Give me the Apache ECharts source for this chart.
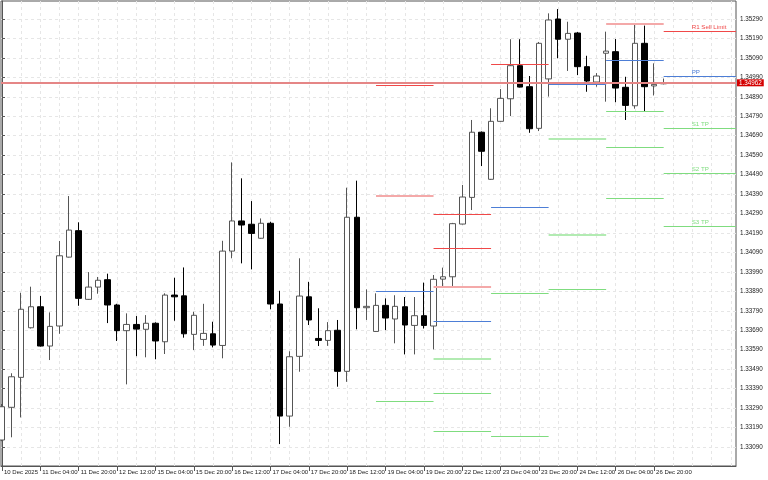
<!DOCTYPE html>
<html><head><meta charset="utf-8">
<script src="https://cdn.jsdelivr.net/npm/echarts@6/dist/echarts.min.js"></script>
<style>html,body{margin:0;padding:0;background:#fff}#c{width:768px;height:480px}</style>
</head><body><div id="c"></div>
<script>
// ---- data ----
const xTickIndex = [0,4,8,12,16,20,24,28,32,36,40,44,48,52,56,60,64,68];
const xTickLabels = ['10 Dec 2025','11 Dec 04:00','11 Dec 20:00','12 Dec 12:00','15 Dec 04:00','15 Dec 20:00','16 Dec 12:00','17 Dec 04:00','17 Dec 20:00','18 Dec 12:00','19 Dec 04:00','19 Dec 20:00','22 Dec 12:00','23 Dec 04:00','23 Dec 20:00','24 Dec 12:00','26 Dec 04:00','26 Dec 20:00'];
const yTicks = [1.33090,1.33190,1.33290,1.33390,1.33490,1.33590,1.33690,1.33790,1.33890,1.33990,1.34090,1.34190,1.34290,1.34390,1.34490,1.34590,1.34690,1.34790,1.34890,1.34990,1.35090,1.35190,1.35290];

const open = [1.33126,1.33294,1.33448,1.33703,1.33811,1.33609,1.33712,1.34066,1.34202,1.33849,
1.33912,1.33950,1.33820,1.33688,1.33720,1.33695,1.33726,1.33631,1.33871,1.33867,
1.33669,1.33643,1.33672,1.33612,1.34097,1.34252,1.34235,1.34163,1.34240,1.33825,
1.33249,1.33556,1.33862,1.33648,1.33638,1.33690,1.33479,1.34271,1.33806,1.33684,
1.33818,1.33748,1.33811,1.33715,1.33765,1.33712,1.33953,1.33965,1.34236,1.34373,
1.34708,1.34466,1.34764,1.34880,1.35050,1.34942,1.34728,1.34982,1.35290,1.35186,
1.35218,1.35045,1.34966,1.35114,1.35122,1.34939,1.34844,1.35165,1.34946,1.34957];
const high = [1.33311,1.33469,1.33883,1.33914,1.33866,1.33782,1.34149,1.34380,1.34245,1.33989,
1.33964,1.33981,1.33826,1.33777,1.33763,1.33768,1.33731,1.33880,1.33960,1.34013,
1.33785,1.33826,1.33734,1.34150,1.34553,1.34471,1.34354,1.34265,1.34248,1.33893,
1.33582,1.34060,1.33939,1.33803,1.33732,1.33743,1.34423,1.34459,1.33900,1.33880,
1.33854,1.33870,1.33861,1.33861,1.33935,1.33974,1.34012,1.34242,1.34437,1.34771,
1.34712,1.34831,1.34930,1.35186,1.35186,1.34997,1.35172,1.35319,1.35341,1.35276,
1.35223,1.35101,1.35012,1.35225,1.35187,1.34993,1.35268,1.35256,1.35062,1.34984];
const low = [1.33120,1.33140,1.33242,1.33699,1.33606,1.33537,1.33672,1.34064,1.33816,1.33846,
1.33878,1.33727,1.33635,1.33412,1.33557,1.33551,1.33541,1.33568,1.33739,1.33652,
1.33588,1.33610,1.33602,1.33546,1.34060,1.34034,1.34003,1.34160,1.33798,1.33105,
1.33194,1.33477,1.33717,1.33609,1.33610,1.33400,1.33425,1.33695,1.33743,1.33682,
1.33691,1.33623,1.33566,1.33566,1.33699,1.33592,1.33910,1.33910,1.34234,1.34308,
1.34534,1.34463,1.34762,1.34791,1.34938,1.34705,1.34714,1.34891,1.35088,1.35023,
1.35002,1.34916,1.34942,1.34865,1.34862,1.34771,1.34829,1.34817,1.34897,1.34954];
const close = [1.33297,1.33451,1.33798,1.33811,1.33609,1.33710,1.34073,1.34205,1.33854,1.33912,
1.33947,1.33820,1.33688,1.33720,1.33696,1.33726,1.33635,1.33871,1.33862,1.33672,
1.33767,1.33674,1.33614,1.34097,1.34252,1.34231,1.34188,1.34240,1.33825,1.33249,
1.33554,1.33866,1.33743,1.33638,1.33688,1.33479,1.34271,1.33806,1.33813,1.33818,
1.33753,1.33813,1.33717,1.33765,1.33715,1.33952,1.33965,1.34238,1.34375,1.34708,
1.34610,1.34764,1.34882,1.35050,1.34940,1.34726,1.35165,1.35285,1.35186,1.35216,
1.35045,1.34971,1.34997,1.35125,1.34935,1.34846,1.35165,1.34942,1.34954,1.34962];

const bidPrice = 1.34962;

// daily level segments (bar index where each day starts)
const segStart = [39, 45, 51, 57, 63, 69];
// [segment, price, kind]
const levels = [
 [0,1.34951,'r'],[0,1.34382,'rl'],[0,1.33891,'b'],[0,1.33325,'g'],
 [1,1.34286,'r'],[1,1.34111,'r'],[1,1.33912,'rl'],[1,1.33736,'b'],[1,1.33542,'gl'],[1,1.33366,'g'],[1,1.33171,'g'],
 [2,1.35057,'r'],[2,1.34323,'b'],[2,1.33880,'g'],[2,1.33144,'g'],
 [3,1.34954,'b'],[3,1.34675,'gl'],[3,1.34181,'gl'],[3,1.33900,'g'],
 [4,1.35263,'rl'],[4,1.35078,'b'],[4,1.34815,'g'],[4,1.34630,'g'],[4,1.34368,'g'],
 [5,1.35227,'r'],[5,1.34997,'b'],[5,1.34728,'g'],[5,1.34498,'g'],[5,1.34224,'g']
];
const lastSegNames = ['R1 Sell Limit','PP','S1 TP','S2 TP','S3 TP'];

// ---- chart ----
const X_MIN = -0.104, X_MAX = 76.54;
const Y_MIN = 1.329924, Y_MAX = 1.353825;
const FONT = 'Liberation Sans';

const styles = {
  r:  {color:'#f04848', width:1},
  rl: {color:'#f4a9a9', width:2},
  b:  {color:'#4d7ed6', width:1},
  g:  {color:'#7fdc7f', width:1},
  gl: {color:'#b2ebb2', width:2}
};

const gridIdx = [];
for (let i = 0; i <= 76; i += 2) gridIdx.push(i);

const candleData = open.map((o, i) => [i, o, close[i], low[i], high[i]]);

const mlData = [];
mlData.push({
  yAxis: bidPrice,
  lineStyle: {color:'#e58686', width:2, type:'solid'},
  label: {show:true, position:'end', distance:1, formatter: bidPrice.toFixed(5),
    backgroundColor:'#d40000', color:'#fff', fontSize:6.3, fontFamily:FONT, padding:[1,2,0,2]}
});
let lastCount = 0;
levels.forEach(([s, v, k]) => {
  const x1 = segStart[s];
  const x2 = s + 1 < segStart.length ? segStart[s + 1] : X_MAX;
  const st = styles[k];
  const first = {coord:[x1, v], lineStyle:{color:st.color, width:st.width, type:'solid'}};
  if (s === segStart.length - 1) {
    first.label = {show:true, position:'insideStartTop', distance:[28, 1],
      formatter: lastSegNames[lastCount], color: st.color, fontSize:6.2, fontFamily:FONT};
    lastCount++;
  }
  mlData.push([first, {coord:[x2, v]}]);
});

const chart = echarts.init(document.getElementById('c'), null, {renderer:'canvas'});
chart.setOption({
  animation:false,
  backgroundColor:'#fff',
  grid:{left:1, top:1, right:32, bottom:14, show:true, borderColor:'#555', borderWidth:1, backgroundColor:'transparent'},
  xAxis:[{
    type:'value', min:X_MIN, max:X_MAX, position:'bottom',
    axisLine:{show:true, lineStyle:{color:'#555', width:1}},
    axisTick:{show:true, customValues:xTickIndex, length:5, lineStyle:{color:'#555'}},
    axisLabel:{show:true, customValues:xTickIndex, align:'left', margin:3, fontSize:6, fontFamily:FONT, color:'#222',
      padding:[0,0,0,2],
      formatter: v => xTickLabels[xTickIndex.indexOf(Math.round(v))] || ''},
    splitLine:{show:false}
  },{
    type:'value', min:X_MIN, max:X_MAX, position:'top',
    axisLine:{show:false}, axisLabel:{show:false},
    axisTick:{show:false, customValues:gridIdx},
    splitLine:{show:true, lineStyle:{color:'#e6e6e6', width:1, type:[3,3]}}
  }],
  yAxis:{
    type:'value', min:Y_MIN, max:Y_MAX, position:'right', scale:true,
    axisLine:{show:true, lineStyle:{color:'#555', width:1}},
    axisTick:{show:true, customValues:yTicks, length:3, lineStyle:{color:'#555'}},
    axisLabel:{show:true, customValues:yTicks, margin:4, fontSize:6.3, fontFamily:FONT, color:'#222',
      formatter: v => v.toFixed(5)},
    splitLine:{show:true, lineStyle:{color:'#e6e6e6', width:1, type:[3,3]}}
  },
  series:[{
    type:'candlestick',
    xAxisIndex:0, yAxisIndex:0,
    data:candleData,
    encode:{x:0, y:[1,2,3,4]},
    barWidth:6,
    clip:true,
    itemStyle:{color:'#ffffff', color0:'#000000', borderColor:'#555555', borderColor0:'#000000', borderWidth:1},
    markLine:{
      silent:true, symbol:['none','none'], animation:false, precision:5,
      label:{show:false},
      emphasis:{disabled:true},
      data:mlData
    }
  }]
});
</script></body></html>
